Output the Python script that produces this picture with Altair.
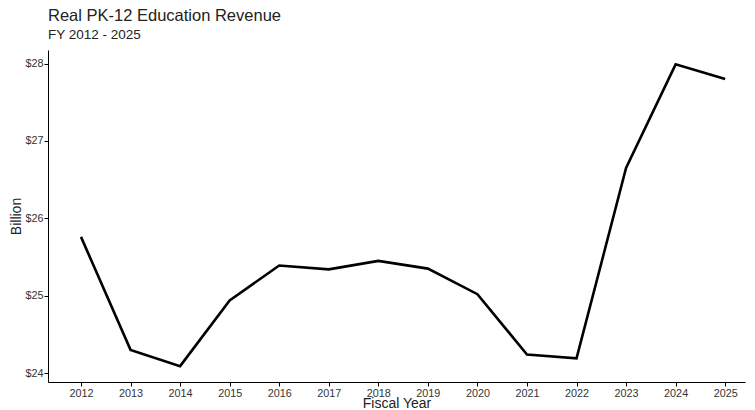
import altair as alt
import pandas as pd

years = [2012, 2013, 2014, 2015, 2016, 2017, 2018, 2019, 2020, 2021, 2022, 2023, 2024, 2025]
revenue = [25.76, 24.30, 24.09, 24.94, 25.39, 25.34, 25.45, 25.35, 25.02, 24.24, 24.19, 26.65, 27.99, 27.80]
y_ticks = [24, 25, 26, 27, 28]

df = pd.DataFrame({"year": years, "revenue": revenue})

FONT = "Liberation Sans"

chart = alt.Chart(df).mark_line(color="black", strokeWidth=2.6).encode(
    x=alt.X("year:Q",
            scale=alt.Scale(domain=[2011.334, 2025.4], nice=False, zero=False),
            axis=alt.Axis(values=years, format="d", title="Fiscal Year", grid=False,
                          labelFlush=False, titleY=25.5, titleBaseline="alphabetic")),
    y=alt.Y("revenue:Q",
            scale=alt.Scale(domain=[23.885, 28.175], nice=False, zero=False),
            axis=alt.Axis(values=y_ticks, labelExpr="'$' + datum.value", title="Billion",
                          grid=False, titleX=-28, titleBaseline="alphabetic")),
).properties(
    width=697,
    height=332,
    background="white",
    title=alt.TitleParams(
        text="Real PK-12 Education Revenue",
        subtitle="FY 2012 - 2025",
        anchor="start",
        frame="group",
        font=FONT,
        fontSize=16.5,
        fontWeight="normal",
        color="#222222",
        subtitleFont=FONT,
        subtitleFontSize=13.5,
        subtitleColor="#222222",
        subtitlePadding=3,
        offset=9,
    ),
    autosize=alt.AutoSizeParams(type="none"),
    padding={"left": 40, "top": 42, "right": 2, "bottom": 30},
).configure_view(
    strokeWidth=0
).configure_axis(
    domainColor="black",
    domainWidth=1,
    tickColor="black",
    tickSize=4,
    tickWidth=1,
    labelFont=FONT,
    labelFontSize=10.8,
    labelColor="#333333",
    labelPadding=1,
    titleFont=FONT,
    titleFontSize=14,
    titleFontWeight="normal",
    titleColor="#222222",
)

chart.save("out.html", embed_options={"renderer": "svg", "actions": False})
